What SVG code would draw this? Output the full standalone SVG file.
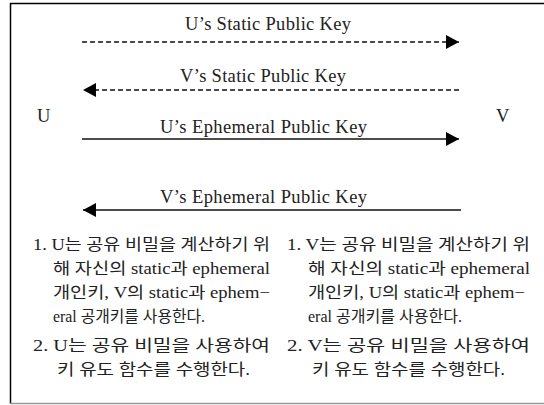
<svg xmlns="http://www.w3.org/2000/svg" width="544" height="405" viewBox="0 0 544 405">
<style>
.lbl{font-family:"Liberation Serif","Noto Sans CJK KR",serif;font-size:18.5px;fill:#222}
.txt{font-family:"Liberation Serif","Noto Sans CJK KR",serif;font-size:16px;fill:#222}
.ln{stroke:#111;stroke-width:1.4;fill:none}
.dash{stroke-dasharray:5,3}
</style>
<defs>
<marker id="ah" viewBox="0 0 13 14" refX="13" refY="7" markerWidth="13" markerHeight="14" markerUnits="userSpaceOnUse" orient="auto">
<path d="M0,0 L13,7 L0,14 Z" fill="#000"/>
</marker>
</defs>
<g id="frame">
<line x1="10.5" y1="3" x2="10.5" y2="404" stroke="#000" stroke-width="1.5"/>
<line x1="10" y1="3.5" x2="544" y2="3.5" stroke="#000" stroke-width="1.5"/>
<line x1="10" y1="403.5" x2="544" y2="403.5" stroke="#999" stroke-width="1.5"/>
</g>
<g id="U"><text class="lbl" x="37" y="122">U</text></g>
<g id="V"><text class="lbl" x="496" y="122">V</text></g>
<g id="connectors">
<line class="ln dash" x1="82" y1="42" x2="459" y2="42" marker-end="url(#ah)"/>
<text class="lbl" x="185" y="30" textLength="166" lengthAdjust="spacing">U’s Static Public Key</text>
<line class="ln dash" x1="459" y1="90" x2="83" y2="90" marker-end="url(#ah)"/>
<text class="lbl" x="180" y="82" textLength="166" lengthAdjust="spacing">V’s Static Public Key</text>
<line class="ln" x1="82" y1="139" x2="459" y2="139" marker-end="url(#ah)"/>
<text class="lbl" x="160" y="133" textLength="207" lengthAdjust="spacing">U’s Ephemeral Public Key</text>
<line class="ln" x1="461" y1="210" x2="83" y2="210" marker-end="url(#ah)"/>
<text class="lbl" x="160" y="203" textLength="207" lengthAdjust="spacing">V’s Ephemeral Public Key</text>
</g>
<g id="u-notes">
<text class="txt" x="33" y="250" textLength="237" lengthAdjust="spacingAndGlyphs">1. U는 공유 비밀을 계산하기 위</text>
<text class="txt" x="53" y="274" textLength="217" lengthAdjust="spacingAndGlyphs">해 자신의 static과 ephemeral</text>
<text class="txt" x="53" y="298" textLength="217" lengthAdjust="spacingAndGlyphs">개인키, V의 static과 ephem−</text>
<text class="txt" x="53" y="322" textLength="152" lengthAdjust="spacingAndGlyphs">eral 공개키를 사용한다.</text>
<text class="txt" x="33" y="351" textLength="237" lengthAdjust="spacingAndGlyphs">2. U는 공유 비밀을 사용하여</text>
<text class="txt" x="57" y="375" textLength="193" lengthAdjust="spacingAndGlyphs">키 유도 함수를 수행한다.</text>
</g>
<g id="v-notes">
<text class="txt" x="287" y="250" textLength="243" lengthAdjust="spacingAndGlyphs">1. V는 공유 비밀을 계산하기 위</text>
<text class="txt" x="308" y="274" textLength="222" lengthAdjust="spacingAndGlyphs">해 자신의 static과 ephemeral</text>
<text class="txt" x="308" y="298" textLength="217" lengthAdjust="spacingAndGlyphs">개인키, U의 static과 ephem−</text>
<text class="txt" x="308" y="322" textLength="154" lengthAdjust="spacingAndGlyphs">eral 공개키를 사용한다.</text>
<text class="txt" x="287" y="351" textLength="243" lengthAdjust="spacingAndGlyphs">2. V는 공유 비밀을 사용하여</text>
<text class="txt" x="312" y="375" textLength="193" lengthAdjust="spacingAndGlyphs">키 유도 함수를 수행한다.</text>
</g>
</svg>
